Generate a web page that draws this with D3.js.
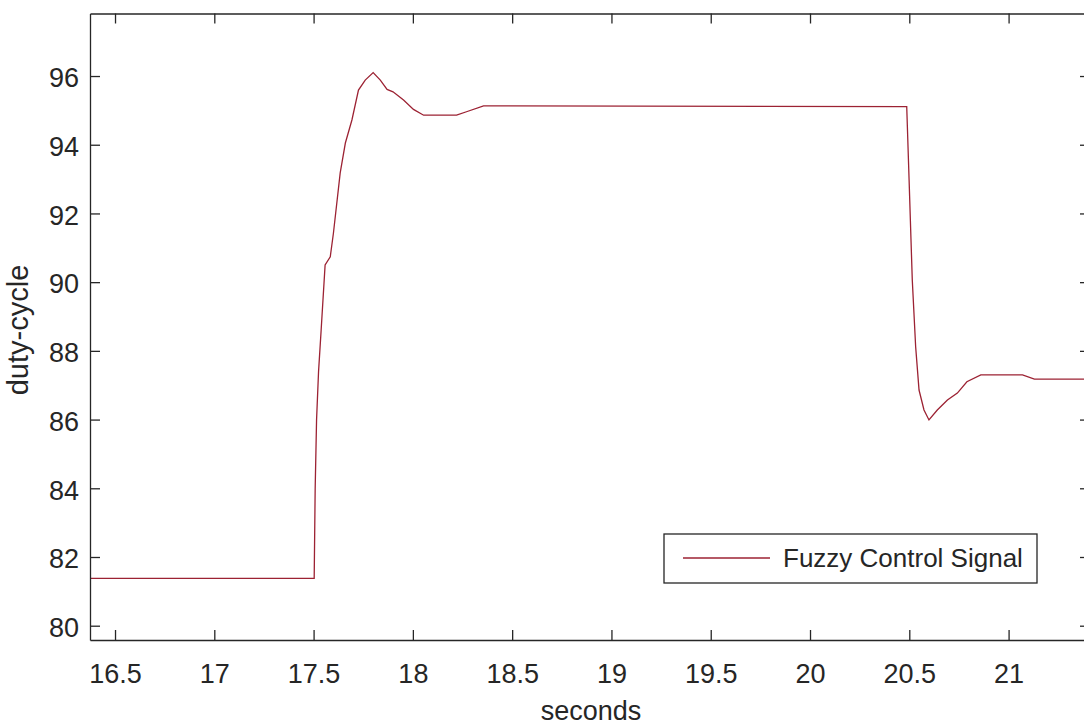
<!DOCTYPE html>
<html lang="en">
<head>
<meta charset="UTF-8">
<title>Fuzzy Control Signal</title>
<script src="https://d3js.org/d3.v7.min.js"></script>
<style>
  body { margin: 0; background: #fff; }
  svg { display: block; }
  .axis path, .axis line { stroke: #262626; stroke-width: 1.3px; }
  .axis text { font-family: "Liberation Sans", Arial, sans-serif; font-size: 27px; fill: #262626; }
  .label { font-family: "Liberation Sans", Arial, sans-serif; fill: #262626; }
</style>
</head>
<body>
<svg></svg>
<script>
// signal
var time = [16.374, 17.503, 17.508, 17.515, 17.525, 17.538, 17.558, 17.584, 17.600, 17.634,
            17.660, 17.693, 17.726, 17.760, 17.800, 17.836, 17.870, 17.900, 17.953, 18.003,
            18.054, 18.220, 18.270, 18.356, 20.487, 20.499, 20.515, 20.532, 20.549, 20.574,
            20.599, 20.641, 20.692, 20.742, 20.790, 20.860, 21.070, 21.130, 21.410];
var duty = [81.38, 81.38, 84.0, 86.0, 87.4, 88.6, 90.5, 90.74, 91.43, 93.18,
            94.05, 94.72, 95.59, 95.88, 96.10, 95.88, 95.61, 95.54, 95.30, 95.03,
            94.86, 94.86, 94.96, 95.13, 95.11, 92.97, 90.06, 88.12, 86.86, 86.28,
            85.99, 86.28, 86.57, 86.77, 87.10, 87.30, 87.30, 87.18, 87.18];
var xTicks = [16.5, 17, 17.5, 18, 18.5, 19, 19.5, 20, 20.5, 21];
var yTicks = [80, 82, 84, 86, 88, 90, 92, 94, 96];
var seriesName = "Fuzzy Control Signal";

var W = 1084, H = 726;
// plot box (right edge sits just outside the window, as in the screenshot)
var pLeft = 90, pTop = 13.5, pRight = 1090, pBottom = 640;

var svg = d3.select("svg").attr("width", W).attr("height", H);

var x = d3.scaleLinear().domain([16.374, 21.41]).range([pLeft, pRight]);
var y = d3.scaleLinear().domain([79.584, 97.82]).range([pBottom, pTop]);

svg.append("defs").append("clipPath").attr("id", "plot")
    .append("rect").attr("x", pLeft).attr("y", pTop)
    .attr("width", pRight - pLeft).attr("height", pBottom - pTop);

// data line
var line = d3.line().x(function (d) { return x(d[0]); }).y(function (d) { return y(d[1]); });
svg.append("path")
    .datum(d3.zip(time, duty))
    .attr("clip-path", "url(#plot)")
    .attr("d", line)
    .attr("fill", "none")
    .attr("stroke", "#9c2233")
    .attr("stroke-width", 1.3);

// axes, ticks pointing inward like matlab
svg.append("g").classed("axis", true)
    .attr("transform", "translate(0," + pBottom + ")")
    .call(d3.axisBottom(x).tickValues(xTicks).tickFormat(String)
        .tickSizeInner(-10).tickSizeOuter(0).tickPadding(23.5));

svg.append("g").classed("axis", true)
    .attr("transform", "translate(0," + pTop + ")")
    .call(d3.axisTop(x).tickValues(xTicks).tickFormat("")
        .tickSizeInner(-10).tickSizeOuter(0));

var yAxis = svg.append("g").classed("axis", true)
    .attr("transform", "translate(" + pLeft + ",0)")
    .call(d3.axisLeft(y).tickValues(yTicks).tickFormat(String)
        .tickSizeInner(-10).tickSizeOuter(0).tickPadding(11));
yAxis.selectAll("text").attr("dy", "0.4em");

svg.append("g").classed("axis", true)
    .attr("transform", "translate(" + pRight + ",0)")
    .call(d3.axisRight(y).tickValues(yTicks).tickFormat("")
        .tickSizeInner(-10).tickSizeOuter(0));

// axis titles
svg.append("text").classed("label", true)
    .attr("x", (pLeft + W) / 2 + 4).attr("y", 720)
    .attr("text-anchor", "middle")
    .style("font-size", "27px")
    .text("seconds");

svg.append("text").classed("label", true)
    .attr("transform", "translate(28," + 330 + ") rotate(-90)")
    .attr("text-anchor", "middle")
    .style("font-size", "29px")
    .text("duty-cycle");

// legend
var lg = svg.append("g");
lg.append("rect")
    .attr("x", 664).attr("y", 534).attr("width", 373).attr("height", 49)
    .attr("fill", "#fff").attr("stroke", "#262626").attr("stroke-width", 1.3);
lg.append("line")
    .attr("x1", 683).attr("x2", 770).attr("y1", 558).attr("y2", 558)
    .attr("stroke", "#9c2233").attr("stroke-width", 1.3);
lg.append("text").classed("label", true)
    .attr("x", 783).attr("y", 567)
    .style("font-size", "26px")
    .text(seriesName);
</script>
</body>
</html>
